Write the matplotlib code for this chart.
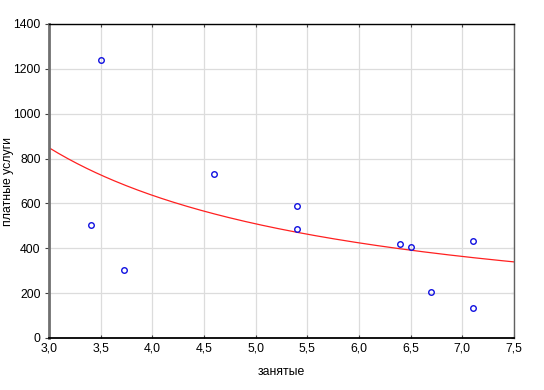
import numpy as np
import matplotlib
matplotlib.use("Agg")
import matplotlib.pyplot as plt

plt.rcParams['font.family'] = ['Liberation Sans', 'DejaVu Sans']

x_vals = [3.41, 3.50, 3.73, 4.60, 5.40, 5.40, 6.40, 6.50, 6.70, 7.10, 7.10]
y_vals = [505, 1238, 303, 733, 588, 485, 420, 405, 205, 433, 135]
fit_a = 2545.0  # fitted curve y = fit_a / x

x_ticks = [3.0, 3.5, 4.0, 4.5, 5.0, 5.5, 6.0, 6.5, 7.0, 7.5]
x_ticklabels = ["3,0", "3,5", "4,0", "4,5", "5,0", "5,5", "6,0", "6,5", "7,0", "7,5"]
y_ticks = [0, 200, 400, 600, 800, 1000, 1200, 1400]

fig = plt.figure(figsize=(5.44, 3.90), dpi=100)
ax = fig.add_axes([49/544, 52/390, 465/544, 314/390])

xx = np.linspace(3.0, 7.5, 200)
ax.plot(xx, fit_a / xx, color='#ff2020', lw=0.9, zorder=2)
ax.plot(x_vals, y_vals, 'o', mfc='none', mec='#1010e0', ms=4, mew=1.0, zorder=3)

ax.set_xlim(3.0, 7.5)
ax.set_ylim(0, 1400)
ax.set_xticks(x_ticks)
ax.set_xticklabels(x_ticklabels)
ax.set_yticks(y_ticks)
ax.grid(True, color='#dcdcdc', lw=0.9)
ax.set_axisbelow(True)

ax.tick_params(axis='both', labelsize=8.8, colors='#404040', labelcolor='black', width=0.8, pad=3)
ax.tick_params(axis='x', direction='in', length=2, top=True)
ax.tick_params(axis='y', direction='out', length=3, right=False)
ax2 = ax.secondary_yaxis('right')
ax2.set_yticks(y_ticks)
ax2.tick_params(direction='in', length=2, labelright=False, colors='#606060')
ax2.spines['right'].set_visible(False)

ax.spines['top'].set_linewidth(1.0)
ax.spines['top'].set_color('black')
ax.spines['bottom'].set_linewidth(1.3)
ax.spines['bottom'].set_color('black')
ax.spines['right'].set_linewidth(1.0)
ax.spines['right'].set_color('#606060')
ax.spines['left'].set_linewidth(2.0)
ax.spines['left'].set_color('#707070')

ax.set_xlabel('занятые', fontsize=8.8)
ax.xaxis.set_label_coords(0.5, -28/314)
ax.set_ylabel('платные услуги', fontsize=8.8, va='center')
ax.yaxis.set_label_coords(-41/465, 0.5)

fig.savefig('out.png', dpi=100)
